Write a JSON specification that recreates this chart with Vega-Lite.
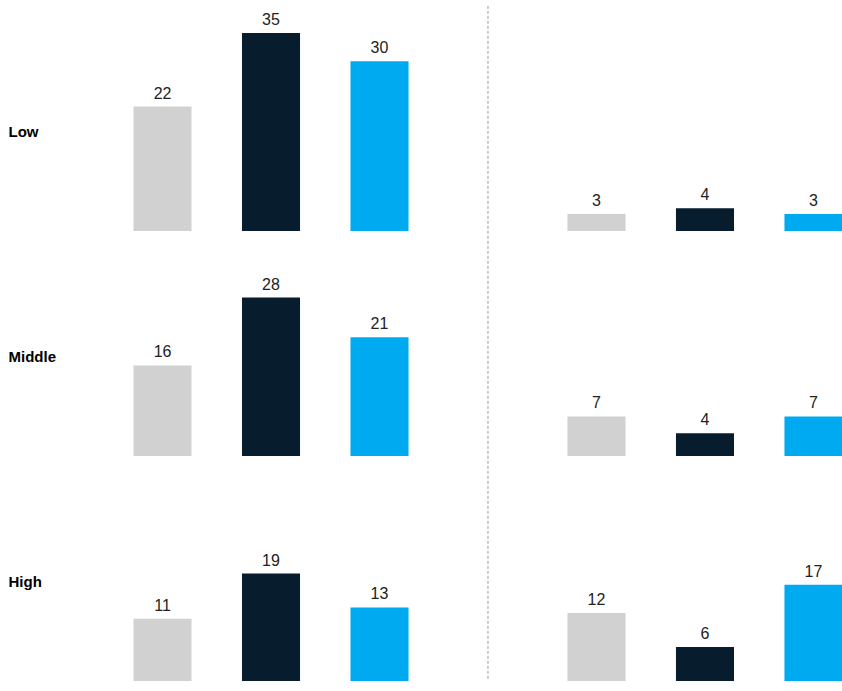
{
  "$schema": "https://vega.github.io/schema/vega-lite/v6.json",
  "padding": {"left": 8, "top": 5, "right": 0, "bottom": 0},
  "data": {"values": [
    {"level": "Low", "panel": "A", "series": "s1", "value": 22},
    {"level": "Low", "panel": "A", "series": "s2", "value": 35},
    {"level": "Low", "panel": "A", "series": "s3", "value": 30},
    {"level": "Low", "panel": "B", "series": "s1", "value": 3},
    {"level": "Low", "panel": "B", "series": "s2", "value": 4},
    {"level": "Low", "panel": "B", "series": "s3", "value": 3},
    {"level": "Middle", "panel": "A", "series": "s1", "value": 16},
    {"level": "Middle", "panel": "A", "series": "s2", "value": 28},
    {"level": "Middle", "panel": "A", "series": "s3", "value": 21},
    {"level": "Middle", "panel": "B", "series": "s1", "value": 7},
    {"level": "Middle", "panel": "B", "series": "s2", "value": 4},
    {"level": "Middle", "panel": "B", "series": "s3", "value": 7},
    {"level": "High", "panel": "A", "series": "s1", "value": 11},
    {"level": "High", "panel": "A", "series": "s2", "value": 19},
    {"level": "High", "panel": "A", "series": "s3", "value": 13},
    {"level": "High", "panel": "B", "series": "s1", "value": 12},
    {"level": "High", "panel": "B", "series": "s2", "value": 6},
    {"level": "High", "panel": "B", "series": "s3", "value": 17}
  ]},
  "transform": [{"calculate": "datum.panel + '-' + datum.series", "as": "slot"}],
  "facet": {
    "row": {
      "field": "level", "type": "nominal", "sort": ["Low", "Middle", "High"],
      "header": {"title": null, "labels": false}
    }
  },
  "spacing": 27,
  "bounds": "flush",
  "spec": {
    "width": 817.5,
    "height": 198,
    "encoding": {
      "x": {"field": "slot", "type": "nominal", "axis": null,
        "scale": {"domain": ["lbl", "A-s1", "A-s2", "A-s3", "gap", "B-s1", "B-s2", "B-s3"], "paddingInner": 0.465, "paddingOuter": 0}},
      "y": {"field": "value", "type": "quantitative", "axis": null, "scale": {"domain": [0, 35], "nice": false}}
    },
    "layer": [
      {
        "mark": {"type": "bar"},
        "encoding": {
          "color": {"field": "series", "type": "nominal", "legend": null,
            "scale": {"domain": ["s1", "s2", "s3"], "range": ["#d1d1d1", "#071d2d", "#00aaf0"]}}
        }
      },
      {
        "mark": {"type": "text", "baseline": "alphabetic", "dy": -8, "fontSize": 16, "font": "Liberation Sans", "color": "#222222"},
        "encoding": {"text": {"field": "value", "type": "quantitative"}}
      },
      {
        "transform": [{"filter": "datum.panel === 'A' && datum.series === 's1'"}],
        "mark": {"type": "rule", "strokeDash": [3, 2], "color": "#9a9a9a", "strokeWidth": 1},
        "encoding": {
          "x": {"datum": "gap", "bandPosition": 0.5},
          "y": {"datum": 39.8},
          "y2": {"datum": 0}
        }
      },
      {
        "transform": [{"filter": "datum.panel === 'A' && datum.series === 's1'"}],
        "mark": {"type": "text", "align": "left", "baseline": "middle", "dx": -16.5, "fontSize": 15, "fontWeight": "bold", "font": "Liberation Sans", "color": "#000000"},
        "encoding": {
          "x": {"datum": "lbl", "bandPosition": 0},
          "y": {"datum": 17.5},
          "text": {"field": "level", "type": "nominal"}
        }
      }
    ]
  },
  "config": {"view": {"stroke": null}}
}
